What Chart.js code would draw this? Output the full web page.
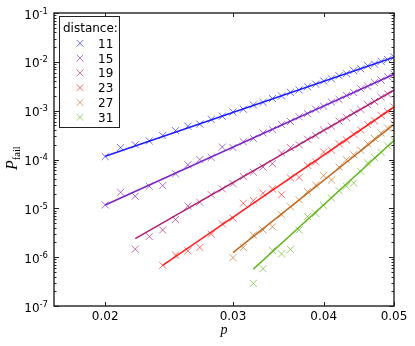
<!DOCTYPE html>
<html>
<head>
<meta charset="utf-8">
<script src="https://cdn.jsdelivr.net/npm/chart.js@4.4.1/dist/chart.umd.min.js"></script>
<style>
  html, body { margin: 0; padding: 0; background: #fff; }
  #wrap { width: 415px; height: 346px; }
</style>
</head>
<body>
<div id="wrap"><canvas id="failChart" width="415" height="346"></canvas></div>
<script>
// physical error rate p (every series ends at 0.050)
const pValues = [0.020, 0.021, 0.022, 0.023, 0.024, 0.025, 0.026, 0.027, 0.028, 0.029,
                 0.030, 0.031, 0.032, 0.033, 0.034, 0.035, 0.036, 0.037, 0.038, 0.039,
                 0.040, 0.041, 0.042, 0.043, 0.044, 0.045, 0.046, 0.047, 0.048, 0.049, 0.050];

const distances = [11, 15, 19, 23, 27, 31];

// P_fail, one list per distance
const fail11 = [1.15e-4, 1.75e-4, 2.0e-4, 2.4e-4, 3.1e-4, 3.9e-4, 4.8e-4, 5.3e-4, 6.6e-4, 7.7e-4,
                9.4e-4, 1.07e-3, 1.31e-3, 1.48e-3, 1.77e-3, 2.0e-3, 2.37e-3, 2.66e-3, 3.1e-3, 3.5e-3,
                4.05e-3, 4.5e-3, 5.2e-3, 5.7e-3, 6.6e-3, 7.2e-3, 8.3e-3, 9.0e-3, 1.02e-2, 1.11e-2, 1.25e-2];
const fail15 = [1.17e-5, 2.13e-5, 1.77e-5, 2.84e-5, 2.93e-5, 5.1e-5, 7.8e-5, 1.0e-4, 1.1e-4, 1.8e-4,
                1.75e-4, 2.3e-4, 2.7e-4, 3.5e-4, 4.1e-4, 5.2e-4, 6.0e-4, 7.5e-4, 8.7e-4, 1.07e-3,
                1.23e-3, 1.5e-3, 1.7e-3, 2.05e-3, 2.35e-3, 2.8e-3, 3.15e-3, 3.75e-3, 4.2e-3, 4.95e-3, 5.6e-3];
const fail19 = [1.46e-6, 2.65e-6, 3.6e-6, 5.9e-6, 1.12e-5, 1.33e-5, 1.9e-5, 2.5e-5, 3.2e-5, 4.5e-5,
                5.5e-5, 7.0e-5, 8.2e-5, 1.36e-4, 1.75e-4, 2.0e-4, 2.6e-4, 3.1e-4, 4.0e-4, 4.8e-4,
                6.1e-4, 7.2e-4, 9.0e-4, 1.06e-3, 1.32e-3, 1.54e-3, 1.88e-3, 2.2e-3, 2.65e-3];
const fail23 = [6.8e-7, 1.1e-6, 1.35e-6, 1.58e-6, 2.97e-6, 4.8e-6, 6.3e-6, 1.27e-5, 1.44e-5, 2.04e-5,
                2.5e-5, 1.9e-5, 4.2e-5, 4.3e-5, 7.6e-5, 8.9e-5, 1.42e-4, 1.55e-4, 2.1e-4, 2.5e-4,
                3.3e-4, 4.0e-4, 5.2e-4, 6.2e-4, 8.0e-4, 9.6e-4, 1.19e-3];
const fail27 = [9.8e-7, 1.58e-6, 2.84e-6, 3.6e-6, 4.2e-6, 7.4e-6, 1.08e-5, 1.49e-5, 2.2e-5, 3.0e-5,
                4.7e-5, 3.8e-5, 7.0e-5, 9.9e-5, 1.25e-4, 1.55e-4, 2.1e-4, 2.7e-4, 3.5e-4, 4.4e-4, 5.3e-4];
const fail31 = [2.9e-7, 5.8e-7, 1.37e-6, 1.17e-6, 1.44e-6, 3.6e-6, 6.8e-6, 7.9e-6, 1.14e-5, 1.64e-5,
                2.31e-5, 2.84e-5, 3.3e-5, 5.7e-5, 8.5e-5, 1.1e-4, 1.4e-4, 1.9e-4, 2.45e-4];

// fitted power-law lines: end points (p, P_fail)
const fitStartP = [0.020, 0.020, 0.022, 0.024, 0.030, 0.032];
const fitStartY = [1.17e-4, 1.17e-5, 2.4e-6, 6.8e-7, 1.24e-6, 5.7e-7];
const fitEndP   = [0.050, 0.050, 0.050, 0.050, 0.050, 0.050];
const fitEndY   = [1.25e-2, 5.6e-3, 2.64e-3, 1.19e-3, 5.26e-4, 2.44e-4];

// axis ticks
const xTicks = [0.02, 0.03, 0.04, 0.05];
const xTickLabels = ['0.02', '0.03', '0.04', '0.05'];
const yExponents = [-1, -2, -3, -4, -5, -6, -7];

const lineColors = ['#1c1cff', '#7a22c8', '#ad1f74', '#ff2222', '#c2691f', '#66b822'];

function withAlpha(hex, a) {
    const n = parseInt(hex.slice(1), 16);
    return 'rgba(' + (n >> 16) + ',' + ((n >> 8) & 255) + ',' + (n & 255) + ',' + a + ')';
}

const failSeries = [fail11, fail15, fail19, fail23, fail27, fail31];
const datasets = [];

failSeries.forEach(function(series, i) {
    const offset = pValues.length - series.length;
    datasets.push({
        label: String(distances[i]),
        data: series.map(function(v, k) { return { x: pValues[offset + k], y: v }; }),
        showLine: false,
        pointStyle: 'crossRot',
        pointRadius: 5,
        pointBorderWidth: 1,
        pointBorderColor: withAlpha(lineColors[i], 0.65),
        pointBackgroundColor: 'rgba(0,0,0,0)',
        clip: 0
    });
    datasets.push({
        label: 'fit ' + distances[i],
        data: [{ x: fitStartP[i], y: fitStartY[i] }, { x: fitEndP[i], y: fitEndY[i] }],
        showLine: true,
        borderColor: lineColors[i],
        borderWidth: 1.5,
        pointRadius: 0,
        clip: 0
    });
});

function drawCross(ctx, cx, cy, r) {
    ctx.beginPath();
    ctx.moveTo(cx - r, cy - r); ctx.lineTo(cx + r, cy + r);
    ctx.moveTo(cx - r, cy + r); ctx.lineTo(cx + r, cy - r);
    ctx.stroke();
}

// matplotlib-like frame, inward ticks, labels and the inset legend
const axesDecor = {
    id: 'axesDecor',
    afterDatasetsDraw(chart) {
        const ctx = chart.ctx;
        const a = chart.chartArea;
        const xs = chart.scales.x, ys = chart.scales.y;
        ctx.save();

        // ticks
        ctx.strokeStyle = '#222';
        ctx.lineWidth = 1;
        ctx.beginPath();
        xTicks.forEach(function(v) {
            const px = Math.round(xs.getPixelForValue(v)) + 0.5;
            ctx.moveTo(px, a.bottom); ctx.lineTo(px, a.bottom - 4);
            ctx.moveTo(px, a.top); ctx.lineTo(px, a.top + 4);
        });
        for (let e = -7; e <= -1; e++) {
            for (let m = 1; m <= 9; m++) {
                if (e === -1 && m > 1) break;
                const py = Math.round(ys.getPixelForValue(m * Math.pow(10, e))) + 0.5;
                const len = m === 1 ? 5 : 2.5;
                ctx.moveTo(a.left, py); ctx.lineTo(a.left + len, py);
                ctx.moveTo(a.right, py); ctx.lineTo(a.right - len, py);
            }
        }
        ctx.stroke();

        // frame
        ctx.lineWidth = 1.4;
        ctx.strokeRect(a.left, a.top, a.right - a.left, a.bottom - a.top);

        // x tick labels
        ctx.fillStyle = '#000';
        ctx.font = '12px "DejaVu Sans"';
        ctx.textAlign = 'center';
        ctx.textBaseline = 'alphabetic';
        xTicks.forEach(function(v, i) {
            ctx.fillText(xTickLabels[i], xs.getPixelForValue(v), a.bottom + 14);
        });

        // y tick labels: 10 with a superscript exponent
        yExponents.forEach(function(e) {
            const py = ys.getPixelForValue(Math.pow(10, e));
            const sup = '-' + Math.abs(e);
            ctx.font = '8.5px "DejaVu Sans"';
            const supW = ctx.measureText(sup).width;
            ctx.textAlign = 'left';
            ctx.fillText(sup, a.left - 6 - supW, py + 0.5);
            ctx.font = '12px "DejaVu Sans"';
            ctx.textAlign = 'right';
            ctx.fillText('10', a.left - 6 - supW, py + 5.5);
        });

        // axis titles
        ctx.textAlign = 'center';
        ctx.font = 'italic 14px "Liberation Serif"';
        ctx.fillText('p', (a.left + a.right) / 2, a.bottom + 28);

        ctx.save();
        ctx.translate(17, 170);
        ctx.rotate(-Math.PI / 2);
        ctx.textAlign = 'left';
        ctx.font = 'italic 16px "Liberation Serif"';
        ctx.fillText('P', 0, 0);
        const pw = ctx.measureText('P').width;
        ctx.font = '10.5px "Liberation Serif"';
        ctx.fillText('fail', pw, 3);
        ctx.restore();

        // legend box
        const lx = 59.5, ly = 16.5, lw = 60, lh = 111;
        ctx.fillStyle = '#fff';
        ctx.fillRect(lx, ly, lw, lh);
        ctx.strokeStyle = '#222';
        ctx.lineWidth = 1;
        ctx.strokeRect(lx, ly, lw, lh);
        ctx.fillStyle = '#000';
        ctx.textAlign = 'left';
        ctx.font = '12px "DejaVu Sans"';
        ctx.fillText('distance:', 63, 31.5);
        distances.forEach(function(d, i) {
            const cy = 43.3 + i * 14.8;
            ctx.strokeStyle = withAlpha(lineColors[i], 0.65);
            ctx.lineWidth = 1;
            drawCross(ctx, 80, cy, 3.4);
            ctx.fillStyle = '#000';
            ctx.fillText(String(d), 98, cy + 4.4);
        });

        ctx.restore();
    }
};

new Chart(document.getElementById('failChart'), {
    type: 'scatter',
    data: { datasets: datasets },
    options: {
        responsive: false,
        animation: false,
        events: [],
        layout: { padding: { left: 54, right: 21, top: 13, bottom: 40 } },
        plugins: { legend: { display: false }, tooltip: { enabled: false } },
        scales: {
            x: { type: 'logarithmic', min: 0.017, max: 0.05, display: false },
            y: { type: 'logarithmic', min: 1e-7, max: 1e-1, display: false }
        }
    },
    plugins: [axesDecor]
});
</script>
</body>
</html>
